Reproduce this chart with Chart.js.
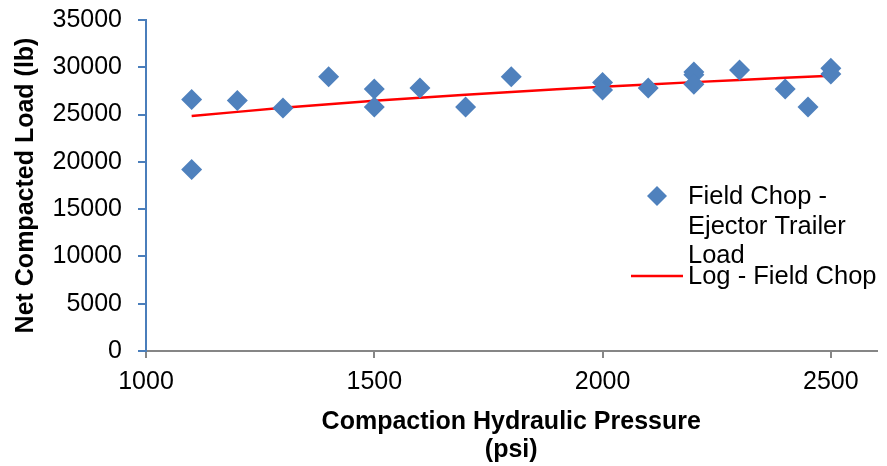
<!DOCTYPE html>
<html>
<head>
<meta charset="utf-8">
<script src="https://cdn.jsdelivr.net/npm/chart.js@4"></script>
<style>
  html, body { margin: 0; padding: 0; background: #fff; }
</style>
</head>
<body>
<canvas id="myChart" width="887" height="466"></canvas>
<script>
// pressure (psi) vs net compacted load (lb)
const pressure = [1100, 1100, 1200, 1300, 1400, 1500, 1500, 1600, 1700, 1800, 2000, 2000, 2100, 2200, 2200, 2200, 2300, 2400, 2450, 2500, 2500];
const load = [26600, 19200, 26500, 25700, 29000, 27700, 25800, 27800, 25800, 29000, 28400, 27600, 27800, 29500, 29200, 28200, 29700, 27700, 25800, 29900, 29300];

// log trendline
const trendX = [1100, 1300, 1500, 1700, 1900, 2100, 2300, 2500];
const trendY = [24840, 25710, 26450, 27100, 27670, 28190, 28660, 29100];

const xTicks = [1000, 1500, 2000, 2500];
const yTicks = [0, 5000, 10000, 15000, 20000, 25000, 30000, 35000];

const labelScatter = ['Field Chop -', 'Ejector Trailer', 'Load'];
const labelTrend = 'Log - Field Chop';

const blue = '#4F81BD';
const red = '#FF0000';
const fontFamily = '"Liberation Sans", Arial, sans-serif';

// legend drawn by hand, it sits over the plot like in Excel
const sideLegend = {
  id: 'sideLegend',
  afterDraw(chart) {
    const c = chart.ctx;
    c.save();
    c.font = '25.5px ' + fontFamily;
    c.fillStyle = '#000';
    c.textBaseline = 'middle';
    c.textAlign = 'left';
    labelScatter.forEach((t, i) => c.fillText(t, 688, 197 + i * 29.5));
    c.fillText(labelTrend, 688, 277);
    // diamond
    c.fillStyle = blue;
    c.beginPath();
    c.moveTo(657, 186); c.lineTo(667, 196); c.lineTo(657, 206); c.lineTo(647, 196);
    c.closePath();
    c.fill();
    // red line
    c.strokeStyle = red;
    c.lineWidth = 2.5;
    c.beginPath();
    c.moveTo(631, 276); c.lineTo(683, 276);
    c.stroke();
    c.restore();
  }
};

const ctx = document.getElementById('myChart').getContext('2d');

new Chart(ctx, {
  type: 'scatter',
  data: {
    datasets: [{
      label: labelScatter.join(' '),
      data: pressure.map((p, i) => ({ x: p, y: load[i] })),
      pointStyle: 'rectRot',
      pointRadius: 10.5,
      pointHoverRadius: 10.5,
      backgroundColor: blue,
      borderColor: blue,
      borderWidth: 0
    }, {
      label: labelTrend,
      type: 'line',
      data: trendX.map((p, i) => ({ x: p, y: trendY[i] })),
      borderColor: red,
      borderWidth: 2.5,
      pointRadius: 0,
      tension: 0.4,
      fill: false
    }]
  },
  options: {
    responsive: false,
    animation: false,
    devicePixelRatio: 1,
    layout: { padding: { top: 20, right: 9, left: 0, bottom: 0 } },
    plugins: {
      legend: { display: false },
      tooltip: { enabled: false }
    },
    scales: {
      x: {
        type: 'linear',
        min: 1000,
        max: 2600,
        afterBuildTicks: (scale) => { scale.ticks = xTicks.map(v => ({ value: v })); },
        afterFit: (scale) => { scale.height = 466 - 351; scale.paddingRight = 0; scale.paddingLeft = 0; },
        border: { color: '#868686', width: 2 },
        grid: { drawOnChartArea: false, color: '#868686', tickLength: 7, lineWidth: 2 },
        ticks: { color: '#000', font: { family: fontFamily, size: 25 }, padding: 9, maxRotation: 0, callback: v => String(v) },
        title: {
          display: true,
          text: ['Compaction Hydraulic Pressure', '(psi)'],
          color: '#000',
          font: { family: fontFamily, size: 25, weight: 'bold', lineHeight: 1.12 },
          padding: { top: 2, bottom: 2 }
        }
      },
      y: {
        min: 0,
        max: 35000,
        afterBuildTicks: (scale) => { scale.ticks = yTicks.map(v => ({ value: v })); },
        afterFit: (scale) => { scale.width = 146; scale.paddingTop = 0; scale.paddingBottom = 0; },
        border: { color: '#4A7EBB', width: 2 },
        grid: { drawOnChartArea: false, color: '#4A7EBB', tickLength: 8, lineWidth: 2 },
        ticks: { color: '#000', font: { family: fontFamily, size: 25 }, padding: 16, callback: v => String(v) },
        title: {
          display: true,
          text: 'Net Compacted Load (lb)',
          color: '#000',
          font: { family: fontFamily, size: 25, weight: 'bold' },
          padding: { top: 11, bottom: 0 }
        }
      }
    }
  },
  plugins: [sideLegend]
});
</script>
</body>
</html>
